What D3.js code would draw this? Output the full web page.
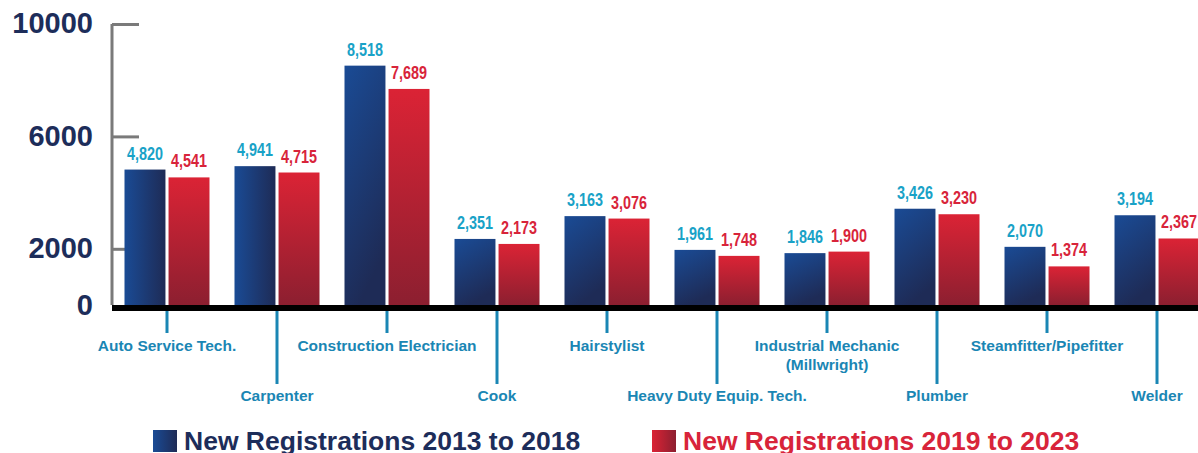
<!DOCTYPE html>
<html>
<head>
<meta charset="utf-8">
<script src="https://cdn.jsdelivr.net/npm/d3@7"></script>
<style>
  html, body { margin: 0; padding: 0; background: #fff; }
  svg { display: block; }
</style>
</head>
<body>
<svg id="chart" width="1198" height="453"></svg>
<script>
// Trades and registration counts for two periods
const categories = [
  "Auto Service Tech.",
  "Carpenter",
  "Construction Electrician",
  "Cook",
  "Hairstylist",
  "Heavy Duty Equip. Tech.",
  "Industrial Mechanic\n(Millwright)",
  "Plumber",
  "Steamfitter/Pipefitter",
  "Welder"
];
const seriesNames = ["New Registrations 2013 to 2018", "New Registrations 2019 to 2023"];
const values2013to2018 = [4820, 4941, 8518, 2351, 3163, 1961, 1846, 3426, 2070, 3194];
const values2019to2023 = [4541, 4715, 7689, 2173, 3076, 1748, 1900, 3230, 1374, 2367];
const yTickValues = [0, 2000, 6000, 10000];

const svg = d3.select("#chart");
const fmt = d3.format(",");

const FONT = "'Liberation Sans', Arial, Helvetica, sans-serif";

// Gradients
const defs = svg.append("defs");
function grad(id, x1, y1, x2, y2, c1, c2) {
  const g = defs.append("linearGradient").attr("id", id)
    .attr("x1", x1).attr("y1", y1).attr("x2", x2).attr("y2", y2);
  g.append("stop").attr("offset", "0%").attr("stop-color", c1);
  g.append("stop").attr("offset", "100%").attr("stop-color", c2);
}
grad("blueH", "0", "0", "1", "0", "#1a4b95", "#1e2b56");
grad("blueD", "0", "0", "0.35", "1", "#1a4b95", "#1e2b56");
grad("redV", "0", "0", "0", "1", "#db2335", "#8c1f30");
grad("redH", "0", "0", "1", "0", "#db2335", "#8c1f30");

// Scales
const x0 = d3.scaleBand().domain(categories).range([112, 1212])
  .paddingInner(0.2273).paddingOuter(0.1136);
const x1 = d3.scaleBand().domain([0, 1]).range([0, x0.bandwidth()]).paddingInner(0.07);
const y = d3.scaleLinear().domain([0, 10000]).range([305, 24]);

// Y axis line and ticks
const yAxis = d3.axisLeft(y).tickValues(yTickValues.filter(d => d > 0)).tickSize(-27).tickFormat("");
const yg = svg.append("g").attr("transform", "translate(112,0)").call(yAxis);
yg.select(".domain").attr("d", `M0,${y(10000)}V${y(0)}`).attr("stroke", "#7a7a7a").attr("stroke-width", 3).attr("fill", "none");
yg.selectAll(".tick line").attr("stroke", "#7a7a7a").attr("stroke-width", 3);
yg.selectAll(".tick text").remove();

// Y tick labels
svg.append("g").selectAll("text").data(yTickValues).join("text")
  .attr("x", 93).attr("y", d => y(d) + (d === 0 ? 2 : 1.5))
  .attr("text-anchor", "end").attr("dominant-baseline", "middle")
  .attr("font-family", FONT).attr("font-weight", "bold").attr("font-size", 29)
  .attr("fill", "#1d2d5a")
  .text(d => d);

// Bars
const groups = svg.append("g").selectAll("g").data(categories).join("g")
  .attr("transform", d => `translate(${x0(d)},0)`);

groups.append("rect")
  .attr("x", x1(0)).attr("width", x1.bandwidth())
  .attr("y", (d, i) => y(values2013to2018[i]))
  .attr("height", (d, i) => y(0) - y(values2013to2018[i]))
  .attr("fill", (d, i) => i < 2 ? "url(#blueH)" : "url(#blueD)");

groups.append("rect")
  .attr("x", x1(1)).attr("width", x1.bandwidth())
  .attr("y", (d, i) => y(values2019to2023[i]))
  .attr("height", (d, i) => y(0) - y(values2019to2023[i]))
  .attr("fill", "url(#redV)");

// Value labels in a condensed bold face
function valueLabel(sel, key, values, color) {
  sel.append("text")
    .attr("transform", (d, i) =>
      `translate(${x1(key) + x1.bandwidth() / 2},${y(values[i]) - 10}) scale(0.8,1)`)
    .attr("text-anchor", "middle")
    .attr("font-family", FONT).attr("font-weight", "bold").attr("font-size", 18)
    .attr("fill", color)
    .text((d, i) => fmt(values[i]));
}
valueLabel(groups, 0, values2013to2018, "#19a2c7");
valueLabel(groups, 1, values2019to2023, "#d8243a");

// Baseline
svg.append("line")
  .attr("x1", 112).attr("x2", 1198)
  .attr("y1", y(0) + 3).attr("y2", y(0) + 3)
  .attr("stroke", "#000").attr("stroke-width", 6);

// Category ticks and labels, staggered in two rows
const xAxis = d3.axisBottom(x0).tickSize(0).tickFormat("");
const xg = svg.append("g").attr("transform", `translate(0,${y(0) + 6})`).call(xAxis);
xg.select(".domain").remove();
xg.selectAll(".tick").each(function (d, i) {
  const t = d3.select(this);
  const long = i % 2 === 1;
  t.select("line")
    .attr("y2", long ? 73 : 22)
    .attr("stroke", "#1a86b4").attr("stroke-width", 3);
  t.select("text").remove();
  const lines = d.split("\n");
  const txt = t.append("text")
    .attr("text-anchor", "middle")
    .attr("font-family", FONT).attr("font-weight", "bold").attr("font-size", 15.5)
    .attr("fill", "#1a86b4");
  lines.forEach((ln, k) => {
    txt.append("tspan").attr("x", 0).attr("y", (long ? 90 : 40) + k * 19).text(ln);
  });
});

// Legend
const legend = [
  { name: seriesNames[0], fill: "url(#blueH)", color: "#1d2d5a", x: 153 },
  { name: seriesNames[1], fill: "url(#redH)", color: "#d8243a", x: 652 }
];
const lg = svg.append("g").selectAll("g").data(legend).join("g")
  .attr("transform", d => `translate(${d.x},430)`);
lg.append("rect").attr("width", 24).attr("height", 22).attr("fill", d => d.fill);
lg.append("text")
  .attr("x", 31).attr("y", 20)
  .attr("font-family", FONT).attr("font-weight", "bold").attr("font-size", 26.5)
  .attr("fill", d => d.color)
  .text(d => d.name);
</script>
</body>
</html>
